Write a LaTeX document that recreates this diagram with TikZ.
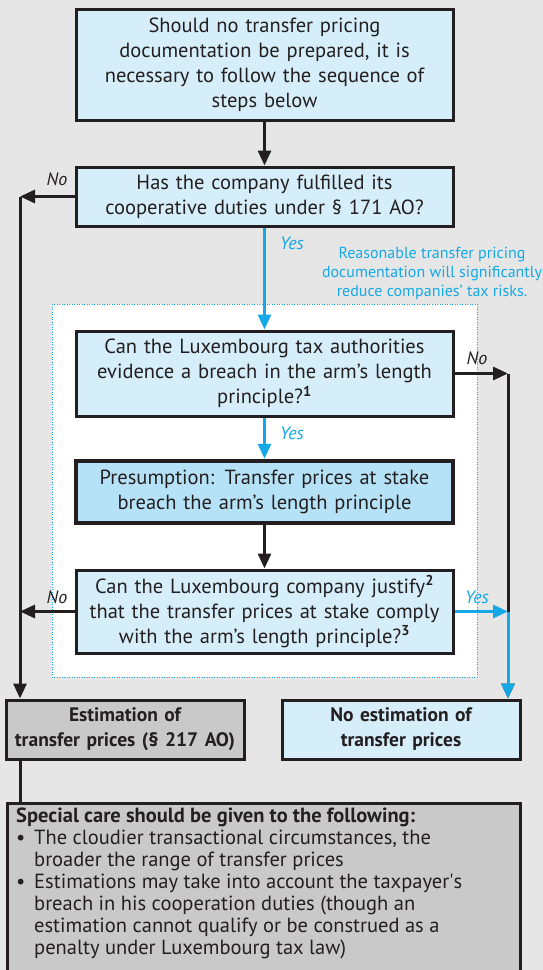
\documentclass[tikz,border=0pt]{standalone}
\usepackage{fontspec}
\setmainfont{PT Sans}
\usetikzlibrary{arrows.meta}
\definecolor{bg}{HTML}{E6E6E6}
\definecolor{boxblue}{HTML}{D6EEFA}
\definecolor{presblue}{HTML}{B6E2F7}
\definecolor{cyanline}{HTML}{14A9E6}
\definecolor{ink}{HTML}{231F20}
\definecolor{greybox}{HTML}{C9C9C9}
\begin{document}
\begin{tikzpicture}[x=1pt,y=-1pt,
  box/.style={draw=ink, line width=3pt, fill=boxblue, minimum width=377pt, text width=372pt,
    align=center, inner sep=0pt, font=\fontsize{20.5}{25}\selectfont, text=ink},
  endbox/.style={draw=ink, line width=3pt, minimum width=238pt, minimum height=59pt, text width=234pt,
    align=center, inner sep=0pt, font=\fontsize{19.5}{25}\selectfont\bfseries, text=ink},
  blk/.style={draw=ink, line width=3pt},
  blkarrow/.style={blk, -{Triangle[length=15pt,width=13pt]}},
  bluearrow/.style={draw=cyanline, line width=3pt, -{Triangle[length=15pt,width=13pt]}},
  lbl/.style={font=\fontsize{18}{20}\selectfont\itshape, inner sep=0pt},
]
\clip (0,0) rectangle (543,970);
\fill[bg] (0,0) rectangle (543,970);

% dotted frame
\draw[cyanline, line width=1pt, dash pattern=on 1pt off 1.5pt, fill=white] (52,304) rectangle (477,677);

% nodes
\node[box, minimum height=111pt] (start) at (264.5,64.5)
  {Should no transfer pricing\\documentation be prepared, it is\\necessary to follow the sequence of\\steps below};
\node[box, minimum height=59pt] (coop) at (264.5,196.5)
  {Has the company fulfilled its\\cooperative duties under § 171 AO?};
\node[box, minimum height=85pt] (evid) at (264.5,373.5)
  {Can the Luxembourg tax authorities\\evidence a breach in the arm’s length\\principle?\textsuperscript{\bfseries 1}};
\node[box, fill=presblue, line width=4.5pt, minimum height=62pt] (pres) at (264.5,492)
  {Presumption: Transfer prices at stake\\breach the arm’s length principle};
\node[box, minimum height=83pt] (just) at (264.5,611.5)
  {Can the Luxembourg company justify\textsuperscript{\bfseries 2}\\that the transfer prices at stake comply\\with the arm’s length principle?\textsuperscript{\bfseries 3}};
\node[endbox, fill=greybox] (est) at (125,729.5) {Estimation of\\transfer prices (§ 217 AO)};
\node[endbox, fill=boxblue] (noest) at (401,729.5) {No estimation of\\transfer prices};

\node[text=cyanline, align=center, font=\fontsize{16}{19}\selectfont, inner sep=0pt] (note) at (432,273)
  {Reasonable transfer pricing\\documentation will significantly\\reduce companies’ tax risks.};

\node[draw=ink, line width=3pt, fill=greybox, anchor=north west, minimum width=513pt,
  minimum height=190pt, inner sep=0pt] (special) at (6,802) {};
\node[anchor=north west, align=left, text=ink, inner sep=0pt, font=\fontsize{20.5}{22}\selectfont] (specialtext) at (16,808)
  {\textbf{Special care should be given to the following:}\\
   \makebox[18pt][l]{•}The cloudier transactional circumstances, the\\
   \hspace*{18pt}broader the range of transfer prices\\
   \makebox[18pt][l]{•}Estimations may take into account the taxpayer\textquotesingle s\\
   \hspace*{18pt}breach in his cooperation duties (though an\\
   \hspace*{18pt}estimation cannot qualify or be construed as a\\
   \hspace*{18pt}penalty under Luxembourg tax law)};

% helper coordinates
\coordinate (L) at (20,0);
\coordinate (R) at (508,0);

% connectors
\draw[blkarrow] (start) -- (coop);
\draw[blkarrow] (coop.west) -- (coop.west -| L);
\draw[blkarrow] (coop.west -| L) -- (est.north -| L);
\node[lbl, text=ink] (no1) at (57,179) {No};

\draw[bluearrow] (coop) -- (evid);
\node[lbl, text=cyanline] (yes1) at (292,243) {Yes};

\draw[blkarrow] (evid.east) -- (evid.east -| R);
\draw[blkarrow] (evid.east -| R) -- (noest.north -| R);
\node[lbl, text=ink] (no2) at (477,358) {No};

\draw[bluearrow] (evid) -- (pres);
\node[lbl, text=cyanline] (yes2) at (292,433) {Yes};

\draw[blkarrow] (pres) -- (just);

\draw[blkarrow] (just.west) -- (just.west -| L);
\node[lbl, text=ink] (no3) at (57,597) {No};

\draw[bluearrow] (just.east) -- (just.east -| R);
\draw[bluearrow] (just.east -| R) -- (noest.north -| R);
\node[lbl, text=cyanline] (yes3) at (477,597) {Yes};

\draw[blk] (est.south -| L) -- (special.north -| L);
\end{tikzpicture}
\end{document}
